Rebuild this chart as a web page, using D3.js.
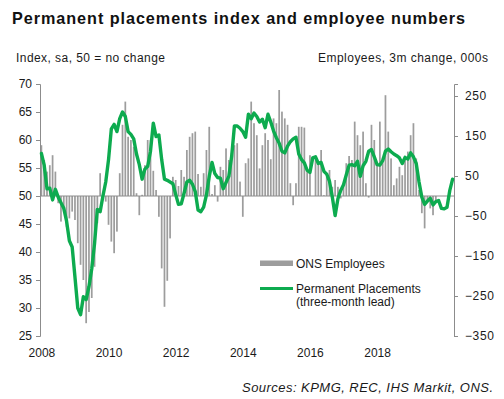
<!DOCTYPE html>
<html><head><meta charset="utf-8">
<script src="https://cdn.jsdelivr.net/npm/d3@7"></script>
<style>
html,body{margin:0;padding:0;background:#fff;}
svg{display:block;font-family:"Liberation Sans",Arial,sans-serif;}
</style></head>
<body><div id="chart"></div>
<script>
// ---- data ----
const startMonth = new Date(2008, 0, 1);
const endMonth = new Date(2020, 4, 1);
const yearTicks = ["2008", "2010", "2012", "2014", "2016", "2018"];
const leftTicks = [25, 30, 35, 40, 45, 50, 55, 60, 65, 70];
const rightTicks = [-350, -250, -150, -50, 50, 150, 250];

// ONS Employees, 3m change, 000s (monthly from Jan 2008)
const onsEmployees = [
  127,90,61,77,102,61,-18,-64,-39,-77,-56,-39,-60,-118,-172,-210,-318,
  -290,-255,-177,-68,57,
  0,-14,-72,-114,-143,-89,57,178,236,
  148,140,123,7,-48,3,77,140,140,63,15,-52,-181,-277,
  -212,-106,48,40,25,65,48,115,148,157,161,55,23,57,115,173,
  5,27,-14,73,65,119,90,107,127,132,36,-52,
  82,94,236,182,152,69,127,157,140,92,194,182,265,
  211,194,178,32,-23,32,173,173,171,65,102,0,
  90,82,115,2,48,65,23,40,23,-6,27,82,100,90,
  186,152,127,161,32,-4,178,140,82,186,96,252,
  161,94,27,44,73,52,98,111,152,182,94,15,-43,-81,-15,-31,-48,-10
];

// Permanent Placements index (three-month lead), monthly from Jan 2008
const permPlacements = [
  57.6,55.5,51.3,51.4,49.3,51.2,49.8,48.8,47.8,45.5,
  42.0,40.9,35.5,30.0,28.8,32.0,31.5,33.8,37.0,41.5,
  47.6,47.2,50.0,52.5,56.5,62.0,62.8,61.5,63.8,65.0,
  64.2,61.5,61.0,60.2,57.5,55.6,53.0,54.8,55.3,58.0,
  63.0,60.6,60.9,56.5,53.0,52.8,52.5,52.2,50.3,48.5,
  48.6,50.5,52.5,52.8,52.1,50.8,47.5,47.2,48.0,50.2,
  53.5,56.0,54.0,53.3,53.2,51.3,52.4,53.5,57.0,62.5,
  62.5,62.1,61.5,60.5,64.6,63.8,64.8,64.2,63.2,63.7,
  62.2,64.6,63.2,61.6,60.4,59.4,58.0,57.7,58.9,59.7,
  60.2,60.5,57.5,56.5,55.9,54.6,54.2,56.8,57.0,55.8,
  56.0,54.4,53.9,52.6,49.8,46.5,49.5,51.0,52.0,53.8,
  55.5,55.6,55.4,56.2,53.5,55.4,56.2,58.0,58.3,57.0,
  55.6,55.5,56.3,58.0,58.4,57.9,57.5,57.2,56.8,55.8,
  56.9,56.6,57.7,57.0,55.8,52.5,49.8,48.5,49.1,49.6,
  48.4,49.0,49.2,47.8,47.7,48.0,51.0,53.0
];

// ---- chart ----
const W = 504, H = 399;
const months = d3.timeMonth.range(startMonth, endMonth);
const fmtYear = d3.timeFormat("%Y");
const fmtM = d3.timeFormat("%Y-%m");

const svg = d3.select("#chart").append("svg").attr("width", W).attr("height", H);

const plot = {left: 40, right: 454, top: 84, bottom: 336};
const x = d3.scaleBand().domain(months.map(fmtM)).range([plot.left, plot.right]).padding(0);
const yL = d3.scaleLinear().domain([25, 70]).range([plot.bottom, plot.top]);
const yR = d3.scaleLinear().domain([-350, 280]).range([plot.bottom, plot.top]);

const axisCol = "#8c8c8c";
const textCol = "#1a1a1a";
const barCol = "#9d9d9d";
const lineCol = "#0dab4f";

// title
svg.append("text").attr("x", 12).attr("y", 24)
  .attr("font-size", 16.2).attr("font-weight", "bold").attr("fill", "#111")
  .attr("textLength", 453).attr("lengthAdjust", "spacing")
  .text("Permanent placements index and employee numbers");
svg.append("text").attr("x", 16).attr("y", 62).attr("font-size", 12).attr("fill", textCol)
  .attr("textLength", 149).attr("lengthAdjust", "spacing")
  .text("Index, sa, 50 = no change");
svg.append("text").attr("x", 318).attr("y", 62).attr("font-size", 12).attr("fill", textCol)
  .attr("textLength", 170).attr("lengthAdjust", "spacing")
  .text("Employees, 3m change, 000s");

// bars
const bw = x.bandwidth() * 0.62;
svg.append("g").selectAll("rect").data(onsEmployees).join("rect")
  .attr("x", (d, i) => x(fmtM(months[i])) + (x.bandwidth() - bw) / 2)
  .attr("width", bw)
  .attr("y", d => Math.min(yR(d), yR(0)))
  .attr("height", d => Math.abs(yR(d) - yR(0)))
  .attr("fill", barCol);

// zero line
svg.append("line").attr("x1", plot.left).attr("x2", plot.right)
  .attr("y1", yL(50)).attr("y2", yL(50)).attr("stroke", axisCol).attr("stroke-width", 1);

// left axis
const gL = svg.append("g").attr("transform", `translate(${plot.left},0)`)
  .call(d3.axisLeft(yL).tickValues(leftTicks).tickSize(4).tickPadding(4));
gL.select(".domain").attr("stroke", axisCol);
gL.selectAll(".tick line").attr("stroke", axisCol);
gL.selectAll("text").attr("font-size", 12).attr("fill", textCol).attr("font-family", "Liberation Sans, Arial, sans-serif");

// right axis
const gR = svg.append("g").attr("transform", `translate(${plot.right},0)`)
  .call(d3.axisRight(yR).tickValues(rightTicks).tickSize(4).tickPadding(7));
gR.select(".domain").attr("stroke", axisCol);
gR.selectAll(".tick line").attr("stroke", axisCol);
gR.selectAll("text").attr("font-size", 12).attr("fill", textCol).attr("font-family", "Liberation Sans, Arial, sans-serif")
  .attr("letter-spacing", 0.6);

// x labels
const yearMonths = months.filter(m => m.getMonth() === 0 && yearTicks.includes(fmtYear(m)));
svg.append("g").selectAll("text").data(yearMonths).join("text")
  .attr("x", d => x(fmtM(d)) + x.bandwidth() / 2 + 0.5)
  .attr("y", 357)
  .attr("text-anchor", "middle").attr("font-size", 12).attr("fill", textCol)
  .text(d => fmtYear(d));

// line
const line = d3.line()
  .x((d, i) => x(fmtM(months[i])) + x.bandwidth() / 2)
  .y(d => yL(d));
svg.append("path").datum(permPlacements).attr("d", line)
  .attr("fill", "none").attr("stroke", lineCol).attr("stroke-width", 3.4)
  .attr("stroke-linejoin", "round").attr("stroke-linecap", "round");

// legend
const lg = svg.append("g");
lg.append("rect").attr("x", 260).attr("y", 260.5).attr("width", 33).attr("height", 5.5).attr("fill", barCol);
lg.append("text").attr("x", 296).attr("y", 267.5).attr("font-size", 12).attr("fill", textCol).text("ONS Employees");
lg.append("line").attr("x1", 260).attr("x2", 293).attr("y1", 288.5).attr("y2", 288.5)
  .attr("stroke", lineCol).attr("stroke-width", 3.2);
lg.append("text").attr("x", 296).attr("y", 292.5).attr("font-size", 12).attr("fill", textCol).text("Permanent Placements");
lg.append("text").attr("x", 296).attr("y", 305.5).attr("font-size", 12).attr("fill", textCol).text("(three-month lead)");

// source
svg.append("text").attr("x", 242).attr("y", 392)
  .attr("font-size", 13).attr("font-style", "italic").attr("fill", textCol)
  .attr("textLength", 251).attr("lengthAdjust", "spacing")
  .text("Sources: KPMG, REC, IHS Markit, ONS.");
</script></body></html>
